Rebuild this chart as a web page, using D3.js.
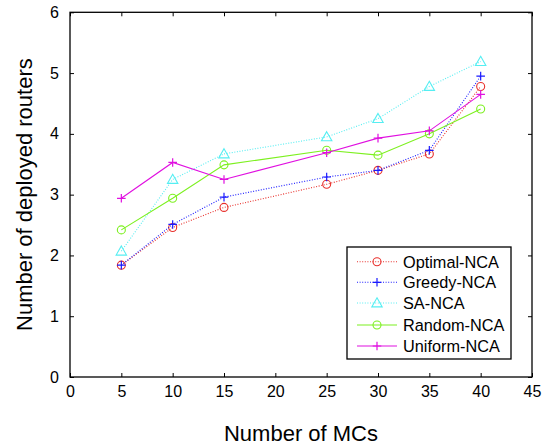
<!DOCTYPE html>
<html>
<head>
<meta charset="utf-8">
<script src="https://cdn.jsdelivr.net/npm/d3@7"></script>
<style>
  html, body { margin: 0; padding: 0; background: #fff; }
  svg text { font-family: "Liberation Sans", Arial, sans-serif; fill: #000; }
</style>
</head>
<body>
<svg id="chart" width="553" height="448"></svg>
<script>
// Number of MCs on the x axis
const mcs = [5, 10, 15, 25, 30, 35, 40];

// Deployed routers per algorithm
const optimalNCA = [1.84, 2.46, 2.79, 3.17, 3.40, 3.67, 4.78];
const greedyNCA  = [1.84, 2.51, 2.96, 3.29, 3.40, 3.73, 4.95];
const saNCA      = [2.07, 3.25, 3.67, 3.95, 4.25, 4.78, 5.19];
const randomNCA  = [2.42, 2.94, 3.49, 3.73, 3.65, 4.00, 4.41];
const uniformNCA = [2.94, 3.53, 3.25, 3.69, 3.93, 4.05, 4.65];

const seriesNames = ["Optimal-NCA", "Greedy-NCA", "SA-NCA", "Random-NCA", "Uniform-NCA"];
const xTicks = [0, 5, 10, 15, 20, 25, 30, 35, 40, 45];
const yTicks = [0, 1, 2, 3, 4, 5, 6];

const series = [
  { name: seriesNames[0], values: optimalNCA, color: "#e8302c", dash: "1,1.6", marker: "circle" },
  { name: seriesNames[1], values: greedyNCA,  color: "#1a1aff", dash: "1,1.6", marker: "plus" },
  { name: seriesNames[2], values: saNCA,      color: "#55eef2", dash: "1,1.6", marker: "triangle" },
  { name: seriesNames[3], values: randomNCA,  color: "#7df020", dash: null,    marker: "circle" },
  { name: seriesNames[4], values: uniformNCA, color: "#e010e0", dash: null,    marker: "plus" }
];

const svg = d3.select("#chart");
const L = 70, R = 532, T = 12.3, B = 377;

const x = d3.scaleLinear().domain([0, 45]).range([L, R]);
const y = d3.scaleLinear().domain([0, 6]).range([B, T]);

// Inward ticks on all four sides, labels on bottom and left
const tickLen = 4;
const gAx = svg.append("g");

gAx.append("g").attr("transform", `translate(0,${B})`)
  .call(d3.axisBottom(x).tickValues(xTicks).tickSize(-tickLen).tickPadding(9).tickFormat(d3.format("d")))
  .call(g => g.select(".domain").remove());
gAx.append("g").attr("transform", `translate(0,${T})`)
  .call(d3.axisTop(x).tickValues(xTicks).tickSize(-tickLen).tickFormat(""))
  .call(g => g.select(".domain").remove());
gAx.append("g").attr("transform", `translate(${L},0)`)
  .call(d3.axisLeft(y).tickValues(yTicks).tickSize(-tickLen).tickPadding(11).tickFormat(d3.format("d")))
  .call(g => g.select(".domain").remove());
gAx.append("g").attr("transform", `translate(${R},0)`)
  .call(d3.axisRight(y).tickValues(yTicks).tickSize(-tickLen).tickFormat(""))
  .call(g => g.select(".domain").remove());

gAx.selectAll(".tick line").attr("stroke", "#000").attr("stroke-width", 1);
gAx.selectAll(".tick text").style("font-size", "16px").attr("fill", "#000");

// Plot box
svg.append("rect")
  .attr("x", L).attr("y", T).attr("width", R - L).attr("height", B - T)
  .attr("fill", "none").attr("stroke", "#000").attr("stroke-width", 1.3);

// Axis titles
svg.append("text")
  .attr("x", (L + R) / 2).attr("y", 441)
  .attr("text-anchor", "middle").style("font-size", "22px")
  .text("Number of MCs");
svg.append("text")
  .attr("transform", `translate(32,${(T + B) / 2}) rotate(-90)`)
  .attr("text-anchor", "middle").style("font-size", "22px")
  .text("Number of deployed routers");

// Marker drawing
function drawMarker(g, type, cx, cy, color) {
  if (type === "circle") {
    g.append("circle").attr("cx", cx).attr("cy", cy).attr("r", 4)
      .attr("fill", "none").attr("stroke", color).attr("stroke-width", 1.1);
  } else if (type === "plus") {
    g.append("path")
      .attr("d", `M${cx - 4.3},${cy}H${cx + 4.3}M${cx},${cy - 4.3}V${cy + 4.3}`)
      .attr("stroke", color).attr("stroke-width", 1.2).attr("fill", "none");
  } else if (type === "triangle") {
    const s = 5.2;
    g.append("path")
      .attr("d", `M${cx},${cy - s}L${cx + s},${cy + s * 0.75}L${cx - s},${cy + s * 0.75}Z`)
      .attr("stroke", color).attr("stroke-width", 1.1).attr("fill", "none");
  }
}

const line = d3.line().x(d => x(d[0])).y(d => y(d[1]));
const gData = svg.append("g");

series.forEach(s => {
  const pts = mcs.map((m, i) => [m, s.values[i]]);
  gData.append("path")
    .datum(pts)
    .attr("d", line)
    .attr("fill", "none")
    .attr("stroke", s.color)
    .attr("stroke-width", 1.1)
    .attr("stroke-dasharray", s.dash);
  pts.forEach(p => drawMarker(gData, s.marker, x(p[0]), y(p[1]), s.color));
});

// Legend
const lg = svg.append("g");
const lx0 = 347, ly0 = 247, lw = 164, lh = 112;
lg.append("rect").attr("x", lx0).attr("y", ly0).attr("width", lw).attr("height", lh)
  .attr("fill", "#fff").attr("stroke", "#000").attr("stroke-width", 1.3);

const rowY = [261.7, 282.3, 303, 325, 346];
series.forEach((s, i) => {
  const yy = rowY[i];
  lg.append("line").attr("x1", 357).attr("x2", 397).attr("y1", yy).attr("y2", yy)
    .attr("stroke", s.color).attr("stroke-width", 1.1).attr("stroke-dasharray", s.dash);
  drawMarker(lg, s.marker, 377, yy, s.color);
  lg.append("text").attr("x", 403).attr("y", yy + 5.8)
    .style("font-size", "16.3px").text(s.name);
});
</script>
</body>
</html>
